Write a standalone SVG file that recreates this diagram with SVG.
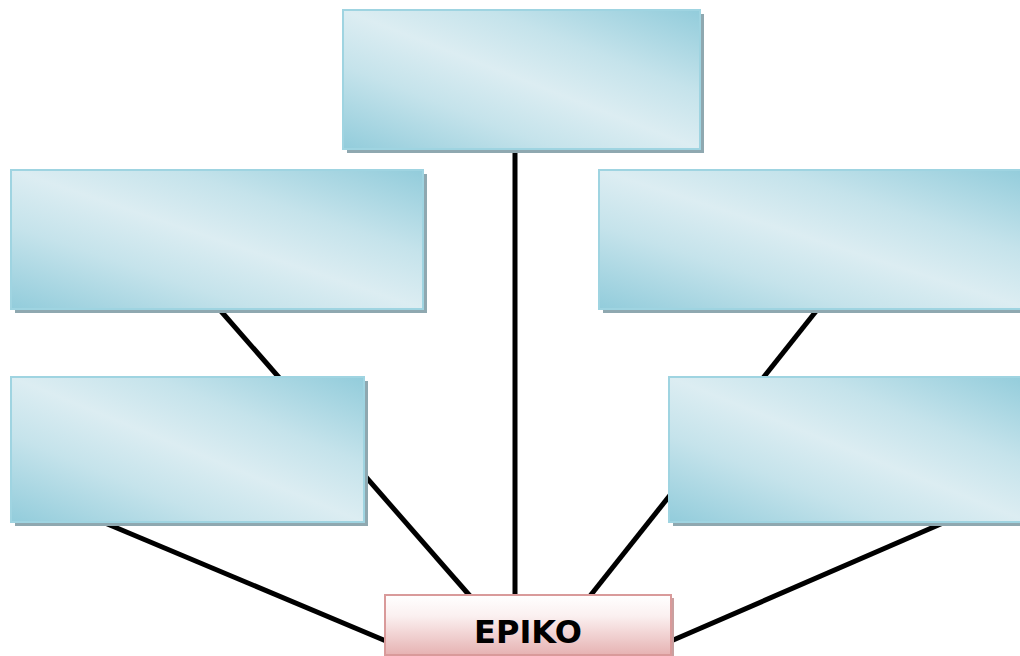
<svg xmlns="http://www.w3.org/2000/svg" width="1020" height="656" viewBox="0 0 1020 656">
<defs>
<linearGradient id="blue" x1="0" y1="1" x2="1" y2="0">
<stop offset="0" stop-color="#92ccdb"/>
<stop offset="0.3" stop-color="#c5e3eb"/>
<stop offset="0.5" stop-color="#dcedf2"/>
<stop offset="0.7" stop-color="#c5e3eb"/>
<stop offset="1" stop-color="#92ccdb"/>
</linearGradient>
<linearGradient id="pink" x1="0" y1="0" x2="0" y2="1">
<stop offset="0" stop-color="#ffffff"/>
<stop offset="0.35" stop-color="#fbf0f0"/>
<stop offset="1" stop-color="#e6b2b2"/>
</linearGradient>
</defs>
<style>
.shadow{fill:#8fa8b0}
.box{fill:url(#blue);stroke:#9fd4e1;stroke-width:2}
.conn line{stroke:#000;stroke-width:5}
.pshadow{fill:#c9a0a0}
.pbox{fill:url(#pink);stroke:#d99a9a;stroke-width:2}
.lbl{font-family:"DejaVu Sans",sans-serif;font-weight:bold;font-size:32px;fill:#000;text-anchor:middle}
</style>
<rect width="1020" height="656" fill="#fff"/>
<g id="connectors" class="conn">
<line x1="515" y1="150" x2="515" y2="596"/>
<line x1="220" y1="310" x2="470" y2="596"/>
<line x1="105" y1="523" x2="386" y2="641"/>
<line x1="817" y1="310" x2="590" y2="596"/>
<line x1="943" y1="523" x2="671" y2="641"/>
</g>
<g id="top">
<rect class="shadow" x="347" y="14" width="357" height="139"/>
<rect class="box" x="343" y="10" width="357" height="139"/>
</g>
<g id="left-upper">
<rect class="shadow" x="15" y="174" width="412" height="139"/>
<rect class="box" x="11" y="170" width="412" height="139"/>
</g>
<g id="left-lower">
<rect class="shadow" x="15" y="381" width="353" height="145"/>
<rect class="box" x="11" y="377" width="353" height="145"/>
</g>
<g id="right-upper">
<rect class="shadow" x="603" y="174" width="430" height="139"/>
<rect class="box" x="599" y="170" width="430" height="139"/>
</g>
<g id="right-lower">
<rect class="shadow" x="673" y="381" width="360" height="145"/>
<rect class="box" x="669" y="377" width="360" height="145"/>
</g>
<g id="epiko">
<rect class="pshadow" x="388" y="598" width="286" height="60"/>
<rect class="pbox" x="385" y="595" width="286" height="60"/>
<text class="lbl" x="528" y="643">EPIKO</text>
</g>
</svg>
